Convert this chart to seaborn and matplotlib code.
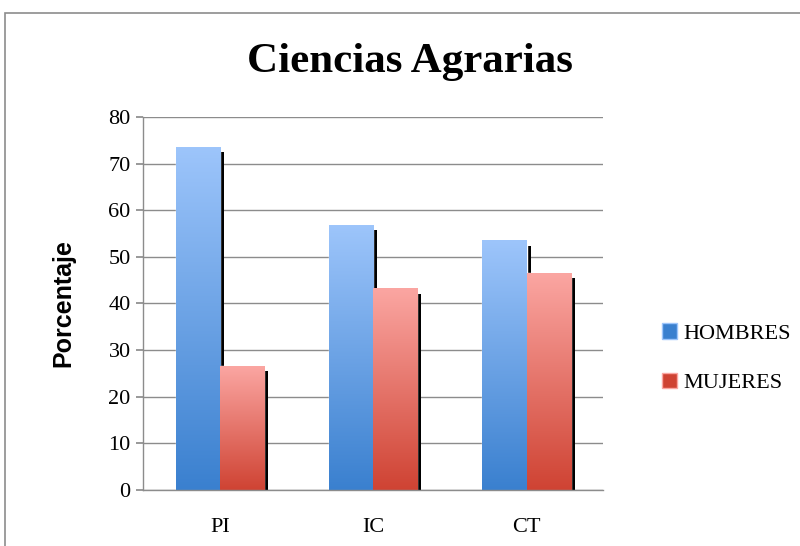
import numpy as np
import pandas as pd
import seaborn as sns
import matplotlib
matplotlib.use("Agg")
import matplotlib.pyplot as plt
from matplotlib.colors import LinearSegmentedColormap
from matplotlib.patches import Rectangle, Patch
from matplotlib.transforms import ScaledTranslation

# ---- data ----
categorias = ["PI", "IC", "CT"]
hombres = [73.5, 56.8, 53.5]
mujeres = [26.5, 43.2, 46.5]
series = ["HOMBRES", "MUJERES"]
yticks = [0, 10, 20, 30, 40, 50, 60, 70, 80]

df = pd.DataFrame({
    "categoria": categorias * 2,
    "valor": hombres + mujeres,
    "sexo": [series[0]] * len(categorias) + [series[1]] * len(categorias),
})

# top colour / bottom colour of each gradient
grad = {
    "HOMBRES": ("#9dc5fb", "#3a80cf"),
    "MUJERES": ("#fba6a2", "#cf4333"),
}

sns.set_theme(style="white")
plt.rcParams["font.family"] = ["Liberation Serif", "DejaVu Serif"]
for k in ["text.color", "axes.labelcolor", "xtick.labelcolor", "ytick.labelcolor"]:
    plt.rcParams[k] = "black"

fig = plt.figure(figsize=(8, 5.46), dpi=100)
ax = fig.add_axes([0.179, 0.1026, 0.575, 0.6831])

sns.barplot(data=df, x="categoria", y="valor", hue="sexo", order=categorias,
            hue_order=series, palette=[grad[s][1] for s in series],
            width=0.575, gap=0, saturation=1, legend=False, ax=ax, zorder=3)

ax.set_ylim(0, 80)
xlim = ax.get_xlim()

# gradient fill + drop shadow for each bar
shadow_tr = ax.transData + ScaledTranslation(4 / 100, -5 / 100, fig.dpi_scale_trans)
bars = [p for p in ax.patches if isinstance(p, Rectangle)]
for i, p in enumerate(bars):
    s = series[i // len(categorias)]
    x0, w, h = p.get_x(), p.get_width(), p.get_height()
    sh = Rectangle((x0, 0), w, h, facecolor="black", edgecolor="none",
                   transform=shadow_tr, zorder=2)
    ax.add_patch(sh)
    cmap = LinearSegmentedColormap.from_list(s, [grad[s][1], grad[s][0]])
    g = np.linspace(0, 1, 256).reshape(-1, 1)
    ax.imshow(g, extent=[x0, x0 + w, 0, h], origin="lower", aspect="auto",
              cmap=cmap, zorder=3.5)

ax.set_xlim(xlim)
ax.set_ylim(0, 80)
ax.set_yticks(yticks)

ax.yaxis.grid(True, color="#8c8c8c", linewidth=1)
ax.set_axisbelow(True)
for side in ["top", "right"]:
    ax.spines[side].set_visible(False)
for side in ["left", "bottom"]:
    ax.spines[side].set_color("#8c8c8c")
    ax.spines[side].set_linewidth(1)
    ax.spines[side].set_zorder(4)
ax.tick_params(axis="y", left=True, length=5, color="#8c8c8c", labelsize=16, pad=4)
ax.tick_params(axis="x", bottom=False, labelsize=16, pad=14)

ax.set_xlabel("")
ax.set_ylabel("Porcentaje", fontsize=18, fontweight="bold",
              family=["Liberation Sans", "DejaVu Sans"], labelpad=24)

fig.text(0.513, 0.886, "Ciencias Agrarias", ha="center", va="center",
         fontsize=31, fontweight="bold")

handles = [Patch(facecolor=grad[s][1], edgecolor=grad[s][0]) for s in series]
fig.legend(handles, series, loc="center left", bbox_to_anchor=(0.802, 0.344),
           frameon=False, fontsize=16, handlelength=0.7, handleheight=0.7,
           handletextpad=0.3, labelspacing=1.3)

# chart area border
fig.patches.append(Rectangle((5 / 800, -0.1), 1.2, 1 - 13 / 546 + 0.1,
                             transform=fig.transFigure, fill=False,
                             edgecolor="#8c8c8c", linewidth=1.2))

fig.savefig("out.png", dpi=100)
